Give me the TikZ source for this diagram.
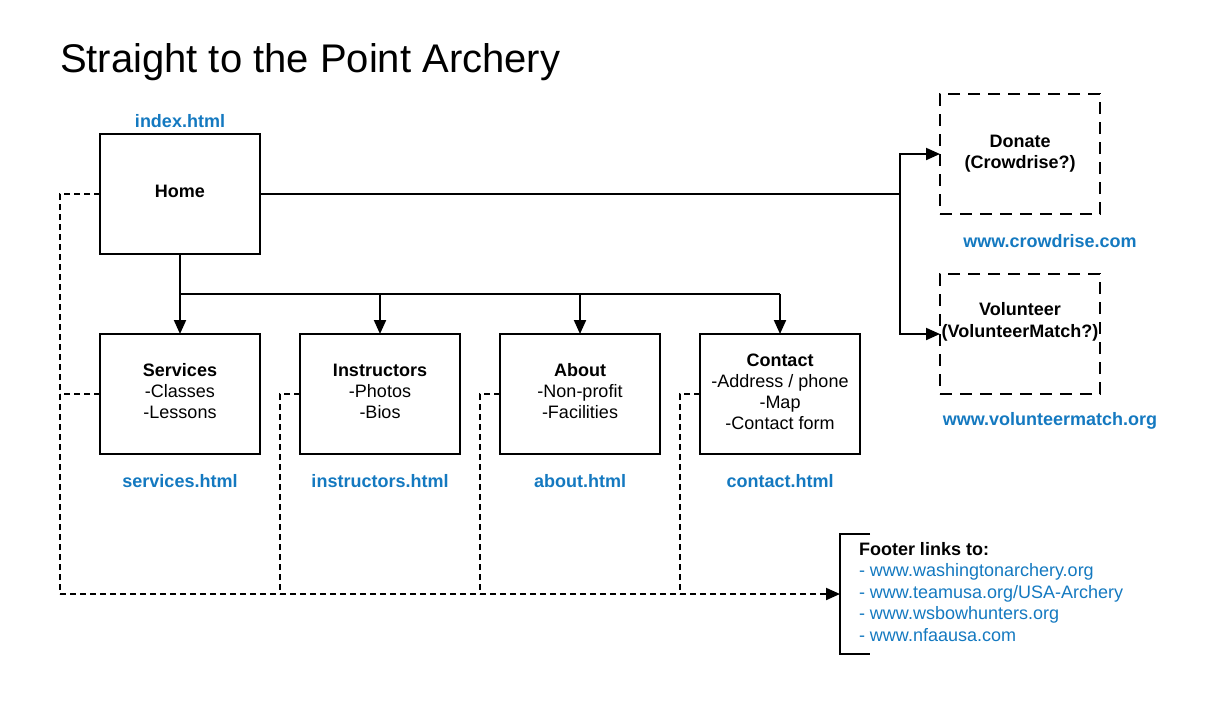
\documentclass[tikz,border=0pt]{standalone}
\usepackage{fontspec}
\setmainfont{Liberation Sans}
\usetikzlibrary{arrows.meta}
\definecolor{linkblue}{HTML}{1479C0}
\tikzset{
  every node/.style={inner sep=0pt, outer sep=0pt},
  pagebox/.style={draw=black, line width=2pt, minimum width=160pt, minimum height=120pt},
  dashbox/.style={pagebox, dash pattern=on 12pt off 8pt},
  boxtext/.style={align=center, font=\fontsize{18}{21}\selectfont},
  bluelabel/.style={text=linkblue, font=\fontsize{18}{21}\selectfont\bfseries},
  link/.style={line width=2pt, -{Triangle[length=14pt,width=12pt]}},
  plain/.style={line width=2pt},
  dashlink/.style={line width=2pt, dash pattern=on 6pt off 4pt},
}
\begin{document}
\begin{tikzpicture}[x=1pt, y=-1pt]
\useasboundingbox (0,0) rectangle (1209,707);
\node[anchor=base west, font=\fontsize{40}{48}\selectfont] (title) at (60,72) {Straight to the Point Archery};

% main boxes
\node[pagebox] (home) at (180,194) {};
\node[boxtext] (hometext) at (180,191.5) {\bfseries Home};
\node[bluelabel] (homelbl) at (180,121) {index.html};

\node[pagebox] (services) at (180,394) {};
\node[pagebox] (instr) at (380,394) {};
\node[pagebox] (about) at (580,394) {};
\node[pagebox] (contact) at (780,394) {};
\node[boxtext] (servicestext) at (180,391) {\textbf{Services}\\-Classes\\-Lessons};
\node[boxtext] (instrtext) at (380,391) {\textbf{Instructors}\\-Photos\\-Bios};
\node[boxtext] (abouttext) at (580,391) {\textbf{About}\\-Non-profit\\-Facilities};
\node[boxtext] (contacttext) at (780,391.5) {\textbf{Contact}\\-Address / phone\\-Map\\-Contact form};

\node[bluelabel] (serviceslbl) at (180,481) {services.html};
\node[bluelabel] (instrlbl) at (380,481) {instructors.html};
\node[bluelabel] (aboutlbl) at (580,481) {about.html};
\node[bluelabel] (contactlbl) at (780,481) {contact.html};

% external boxes
\node[dashbox] (donate) at (1020,154) {};
\node[boxtext, font=\fontsize{18}{21}\selectfont\bfseries] (donatetext) at (1020,153.5) {Donate\\(Crowdrise?)};
\node[bluelabel] (donatelbl) at (1050,241) {www.crowdrise.com};
\node[dashbox] (volunteer) at (1020,334) {};
\node[boxtext, font=\fontsize{18}{22}\selectfont\bfseries] (voltext) at (1020,322) {Volunteer\\(VolunteerMatch?)};
\node[bluelabel] (volunteerlbl) at (1050,421) {www.volunteermatch.org};

% footer
\node[anchor=west, align=left, font=\fontsize{18}{21.5}\selectfont] (footer) at (859,592)
  {\textbf{Footer links to:}\\
   \textcolor{linkblue}{- www.washingtonarchery.org}\\
   \textcolor{linkblue}{- www.teamusa.org/USA-Archery}\\
   \textcolor{linkblue}{- www.wsbowhunters.org}\\
   \textcolor{linkblue}{- www.nfaausa.com}};
\coordinate (fbtop) at (870,534);
\coordinate (fbbot) at (870,654);
\coordinate (fb) at (840,594);
\draw[plain] (fbtop) -- (fb |- fbtop) -- (fb |- fbbot) -- (fbbot);

% home to external
\coordinate (jr) at (900,194);
\draw[plain] (home.east) -- (jr);
\draw[link] (jr) |- (donate.west);
\draw[link] (jr) |- (volunteer.west);

% home to subpages
\coordinate (jd) at (180,294);
\draw[plain] (home.south) -- (jd);
\draw[plain] (jd) -- (contact.north |- jd);
\draw[link] (jd) -- (services.north);
\draw[link] (instr.north |- jd) -- (instr.north);
\draw[link] (about.north |- jd) -- (about.north);
\draw[link] (contact.north |- jd) -- (contact.north);

% footer dashed links
\coordinate (c0) at (60,594);
\coordinate (c1) at (280,594);
\coordinate (c2) at (480,594);
\coordinate (c3) at (680,594);
\draw[dashlink] (home.west) -| (c0);
\draw[dashlink] (services.west) -- (services.west -| c0);
\draw[dashlink] (instr.west) -| (c1);
\draw[dashlink] (about.west) -| (c2);
\draw[dashlink] (contact.west) -| (c3);
\draw[dashlink, -{Triangle[length=14pt,width=12pt]}] (c0) -- (fb);
\end{tikzpicture}
\end{document}
